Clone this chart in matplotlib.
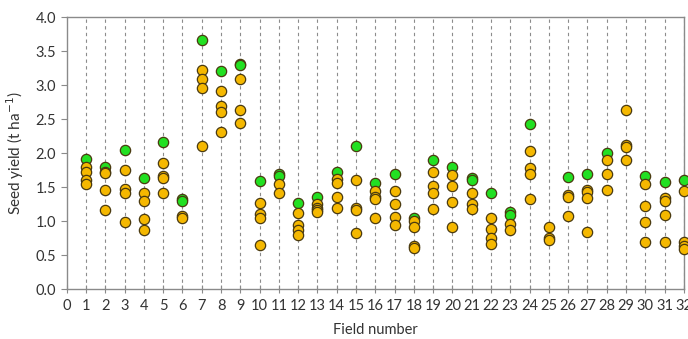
import numpy as np
import matplotlib.pyplot as plt

plt.rcParams['font.family'] = ['Lato', 'DejaVu Sans']

# field numbers and seed yields (t/ha)
fields = list(range(1, 33))

green_yield = [1.92, 1.80, 2.05, 1.64, 2.16, 1.32, 3.66, 3.21, 3.32, 1.59,
               1.70, 1.27, 1.36, 1.73, 2.11, 1.56, 1.69, 1.05, 1.90, 1.80,
               1.63, 1.41, 1.13, 2.43, None, 1.65, 1.70, 2.01, None, 1.66,
               1.58, 1.60]

orange_yield = [
    [1.80, 1.73, 1.61, 1.54],
    [1.73, 1.71, 1.46, 1.17],
    [1.75, 1.47, 1.41, 0.99],
    [1.41, 1.29, 1.03, 0.87],
    [1.86, 1.66, 1.64, 1.41],
    [1.08, 1.05],
    [3.22, 3.09, 2.96, 2.11],
    [2.91, 2.70, 2.61, 2.31],
    [3.09, 2.63, 2.45],
    [1.27, 1.11, 1.05, 0.65],
    [1.54, 1.41],
    [1.12, 0.94, 0.87, 0.79],
    [1.26, 1.19, 1.16, 1.13],
    [1.62, 1.56, 1.36, 1.19],
    [1.61, 1.19, 1.17, 0.82],
    [1.44, 1.36, 1.32, 1.04],
    [1.45, 1.25, 1.06, 0.94],
    [1.00, 0.91, 0.64, 0.60],
    [1.73, 1.52, 1.42, 1.18],
    [1.68, 1.52, 1.28, 0.92],
    [1.41, 1.26, 1.18],
    [1.04, 0.89, 0.75, 0.66],
    [0.96, 0.87],
    [2.04, 1.78, 1.69, 1.33],
    [0.91, 0.76, 0.73],
    [1.39, 1.36, 1.07],
    [1.46, 1.43, 1.34, 0.84],
    [1.90, 1.70, 1.46],
    [2.64, 2.12, 2.09, 1.90],
    [1.54, 1.23, 0.99, 0.69],
    [1.34, 1.29, 1.09, 0.69],
    [1.45, 0.69, 0.64, 0.59],
]

# extra overlapping green points
green_extra_x = [6, 9, 11, 21, 23]
green_extra_y = [1.29, 3.30, 1.67, 1.61, 1.09]

xticks = list(range(0, 33))
yticks = np.arange(0, 4.01, 0.5)

fig = plt.figure(figsize=(6.88, 3.39), dpi=100)
ax = fig.add_axes([0.097, 0.147, 0.897, 0.802])

grey = '#8a8a8a'
edge = '#4a3a10'
for f in fields:
    ax.axvline(f, color='#8c8c8c', lw=0.8, ls=(0, (3, 3)), zorder=1)

gx = [f for f, g in zip(fields, green_yield) if g is not None]
gy = [g for g in green_yield if g is not None]
ax.scatter(gx + green_extra_x, gy + green_extra_y, s=55, color='#22e022',
           edgecolors=edge, linewidths=0.9, zorder=3, clip_on=False)

ox = [f for f, vals in zip(fields, orange_yield) for _ in vals]
oy = [v for vals in orange_yield for v in vals]
ax.scatter(ox, oy, s=55, color='#f5b800', edgecolors=edge, linewidths=0.9,
           zorder=4, clip_on=False)

ax.set_xlim(0, 32)
ax.set_ylim(0, 4.0)
ax.set_xticks(xticks)
ax.set_xticklabels([str(t) for t in xticks])
ax.set_yticks(yticks)
ax.set_yticklabels(['%.1f' % t for t in yticks])

for s in ax.spines.values():
    s.set_color(grey)
    s.set_linewidth(1.0)
ax.tick_params(axis='x', direction='inout', length=6, color=grey,
               labelsize=10.5, labelcolor='#333333', pad=4)
ax.tick_params(axis='y', direction='out', length=4, color=grey,
               labelsize=10.5, labelcolor='#333333')

ax.set_xlabel('Field number', fontsize=10.5, color='#333333', labelpad=7)
ax.set_ylabel('Seed yield (t ha$^{-1}$)', fontsize=11, color='#333333',
              labelpad=7)

fig.savefig('out.png', dpi=100)
